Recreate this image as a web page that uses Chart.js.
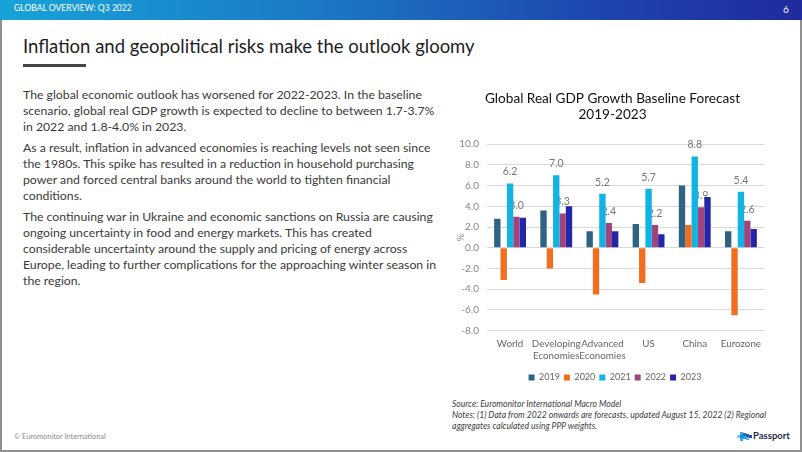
<!DOCTYPE html>
<html>
<head>
<meta charset="utf-8">
<script src="https://cdn.jsdelivr.net/npm/chart.js@4.4.0/dist/chart.umd.min.js"></script>
<style>
  html, body { margin: 0; padding: 0; background: #fff; }
  body { width: 802px; height: 452px; position: relative; overflow: hidden; font-family: Lato, "Open Sans", sans-serif; }
  .frame { position: absolute; left: 0; top: 0; width: 798px; height: 450px; border-left: 2px solid #8f8f8f; border-right: 2px solid #8f8f8f; border-bottom: 2px solid #8f8f8f; }
  .header { position: absolute; left: 0; top: 0; width: 802px; height: 20px; background: linear-gradient(90deg, #17a3d9 0%, #1b78c6 40%, #1e45ae 75%, #1f2b9d 100%); }
  .abs { position: absolute; white-space: nowrap; line-height: 1; }
  .htext { color: #fff; left: 14px; top: 4px; font-size: 10px; }
  .pnum { color: #fff; left: 783px; top: 4px; font-size: 10px; }
  .title { left: 23px; top: 37px; color: #1e1e1e; font-size: 20px; }
  .uline { position: absolute; left: 23px; top: 64px; width: 63px; height: 3px; background: #444; }
  .body { position: absolute; left: 23px; color: #3a3a3a; }
  .body div { white-space: nowrap; height: 16px; line-height: 16px; }
  .notes { position: absolute; left: 452px; top: 399px; color: #404040; font-style: italic; }
  .notes div { white-space: nowrap; height: 10.8px; line-height: 10.8px; }
  .foot { left: 14px; top: 433px; color: #8a8a8a; font-size: 8px; }
  .pp { left: 753px; top: 431px; color: #1c2b4a; font-size: 9.5px; font-weight: bold; }
  #wrap { position: absolute; left: 445px; top: 80px; width: 340px; height: 315px; }
</style>
</head>
<body>
<div class="frame"></div>
<div class="header"></div>
<div class="abs htext" id="htext">GLOBAL OVERVIEW: Q3 2022</div>
<div class="abs pnum">6</div>
<div class="abs title" id="title">Inflation and geopolitical risks make the outlook gloomy</div>
<div class="uline"></div>

<div class="body" id="p1" style="top:87px">
  <div id="l1">The global economic outlook has worsened for 2022-2023. In the baseline</div>
  <div>scenario, global real GDP growth is expected to decline to between 1.7-3.7%</div>
  <div>in 2022 and 1.8-4.0% in 2023.</div>
</div>
<div class="body" id="p2" style="top:140px">
  <div>As a result, inflation in advanced economies is reaching levels not seen since</div>
  <div>the 1980s. This spike has resulted in a reduction in household purchasing</div>
  <div>power and forced central banks around the world to tighten financial</div>
  <div>conditions.</div>
</div>
<div class="body" id="p3" style="top:209px">
  <div>The continuing war in Ukraine and economic sanctions on Russia are causing</div>
  <div>ongoing uncertainty in food and energy markets. This has created</div>
  <div>considerable uncertainty around the supply and pricing of energy across</div>
  <div>Europe, leading to further complications for the approaching winter season in</div>
  <div>the region.</div>
</div>

<div id="wrap"><canvas id="c"></canvas></div>

<div class="notes" id="notes">
  <div>Source: Euromonitor International Macro Model</div>
  <div id="n2">Notes: (1) Data from 2022 onwards are forecasts, updated August 15, 2022 (2) Regional</div>
  <div>aggregates calculated using PPP weights.</div>
</div>

<div class="abs foot" id="foot">© Euromonitor International</div>
<svg style="position:absolute;left:737px;top:431px" width="16" height="11" viewBox="0 0 16 11">
  <rect x="0" y="4" width="3" height="3" fill="#7fc8ee"/>
  <rect x="3" y="1" width="3" height="3" fill="#3aa8e4"/>
  <rect x="3" y="4" width="3" height="3" fill="#1f86d6"/>
  <rect x="3" y="7" width="3" height="3" fill="#3aa8e4"/>
  <rect x="6" y="2" width="3" height="3" fill="#1f6fc9"/>
  <rect x="6" y="5" width="3" height="3" fill="#2a9be0"/>
  <rect x="9" y="3" width="3" height="3" fill="#1b5cc0"/>
  <rect x="9" y="6" width="3" height="3" fill="#56b8ea"/>
  <rect x="12" y="4" width="3" height="3" fill="#1e4fb8"/>
</svg>
<div class="abs pp">Passport</div>

<script>
// ---- data ----
const categories = [["World"], ["Developing", "Economies"], ["Advanced", "Economies"], ["US"], ["China"], ["Eurozone"]];
const seriesNames = ["2019", "2020", "2021", "2022", "2023"];
const v2019 = [2.8, 3.6, 1.6, 2.3, 6.0, 1.6];
const v2020 = [-3.1, -2.0, -4.5, -3.4, 2.2, -6.5];
const v2021 = [6.2, 7.0, 5.2, 5.7, 8.8, 5.4];
const v2022 = [3.0, 3.3, 2.4, 2.2, 3.9, 2.6];
const v2023 = [2.9, 4.0, 1.6, 1.3, 4.9, 1.8];
const yTicks = [-8, -6, -4, -2, 0, 2, 4, 6, 8, 10];
const chartTitle = ["Global Real GDP Growth Baseline Forecast", "2019-2023"];
const labelledSeries = ["2021", "2022"];

// ---- fit text widths ----
function fitWidth(el, target) {
  const cs = parseFloat(getComputedStyle(el).fontSize) || 12;
  el.style.fontSize = cs + "px";
  const w = el.getBoundingClientRect().width;
  el.style.fontSize = (cs * target / w) + "px";
}
function spanWidth(text, font) {
  const c = document.createElement("canvas").getContext("2d");
  c.font = font; return c.measureText(text).width;
}
(function () {
  const t = document.getElementById("title");
  t.style.display = "inline-block";
  fitWidth(t, 452);
  fitWidth(document.getElementById("htext"), 118);
  fitWidth(document.getElementById("foot"), 92);
  const l1 = document.getElementById("l1").textContent;
  const fs = 13 * 400 / spanWidth(l1, "13px Lato");
  ["p1", "p2", "p3"].forEach(id => document.getElementById(id).style.fontSize = fs + "px");
  const n2 = document.getElementById("n2").textContent;
  document.getElementById("notes").style.fontSize = (9 * 315 / spanWidth(n2, "italic 9px Lato")) + "px";
})();

// ---- chart ----
const colors = ["#2f6383", "#f26e1f", "#12b2e3", "#a1447d", "#2127a8"];
const seriesValues = [v2019, v2020, v2021, v2022, v2023];

const labelPlugin = {
  id: "barLabels",
  afterLayout(chart) {
    // centre legend and title on the whole canvas rather than the padded area
    const lg = chart.legend;
    if (lg) { lg.left += 10.5; lg.right += 10.5; }
    const tb = chart.titleBlock;
    if (tb) { tb.left += 8; tb.right += 8; }
  },
  beforeDatasetsDraw(chart) {
    const ctx = chart.ctx;
    ctx.save();
    ctx.font = "10.5px Lato";
    ctx.fillStyle = "#767676";
    ctx.textAlign = "center";
    ctx.textBaseline = "middle";
    chart.data.datasets.forEach((ds, i) => {
      if (!labelledSeries.includes(ds.label)) return;
      const meta = chart.getDatasetMeta(i);
      meta.data.forEach((bar, j) => {
        const v = ds.data[j];
        const y = v >= 0 ? bar.y - 11.5 : bar.y + 11.5;
        ctx.fillText(v.toFixed(1), bar.x, y);
      });
    });
    ctx.restore();
  }
};

new Chart(document.getElementById("c"), {
  type: "bar",
  data: {
    labels: categories,
    datasets: seriesNames.map((n, i) => ({
      label: n,
      data: seriesValues[i],
      backgroundColor: colors[i],
      borderWidth: 0,
      categoryPercentage: 0.69,
      barPercentage: 1.0
    }))
  },
  plugins: [labelPlugin],
  options: {
    responsive: true,
    maintainAspectRatio: false,
    animation: false,
    layout: { padding: { left: 0, right: 21, top: 0, bottom: 3 } },
    plugins: {
      title: {
        display: true,
        text: chartTitle,
        color: "#111",
        font: { family: "Lato", size: 13.6, weight: "normal", lineHeight: 1.18 },
        padding: { top: 11, bottom: 21 }
      },
      legend: {
        position: "bottom",
        labels: {
          boxWidth: 6, boxHeight: 6, padding: 4,
          color: "#666", font: { family: "Lato", size: 9 }
        }
      },
      tooltip: { enabled: false }
    },
    scales: {
      x: {
        grid: { display: false, drawTicks: false },
        border: { display: false },
        ticks: { color: "#666", font: { family: "Lato", size: 9.8 }, padding: 7, maxRotation: 0, autoSkip: false },
        afterFit(scale) { scale.height = 38.3; }
      },
      y: {
        min: -8, max: 10,
        afterBuildTicks(scale) { scale.ticks = yTicks.map(v => ({ value: v })); },
        grid: { color: "#d9d9d9", lineWidth: 1, drawTicks: false },
        border: { display: false },
        ticks: { color: "#888", font: { family: "Lato", size: 10 }, padding: 8, callback: v => v.toFixed(1) },
        title: { display: true, text: "%", color: "#888", font: { family: "Lato", size: 10 }, padding: { top: 10, bottom: 0 } },
        afterFit(scale) { scale.width = 42; }
      }
    }
  }
});
</script>
</body>
</html>
